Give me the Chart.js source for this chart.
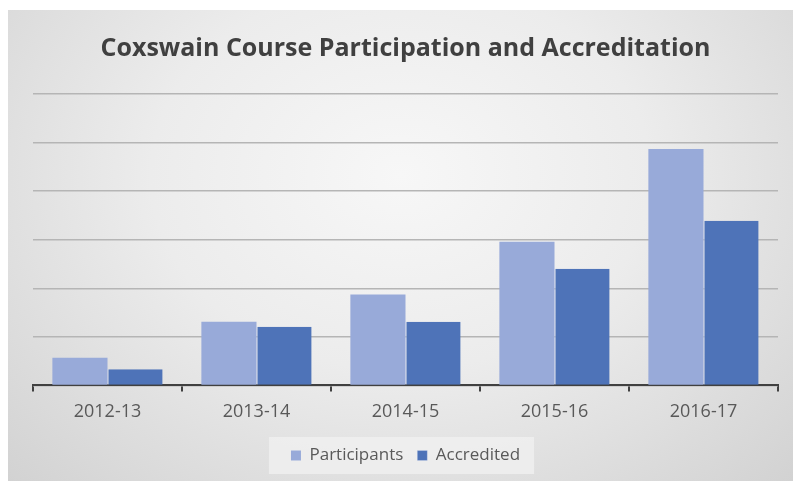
<!DOCTYPE html>
<html>
<head>
<meta charset="utf-8">
<script src="https://cdn.jsdelivr.net/npm/chart.js@4"></script>
<style>
  html, body { margin: 0; padding: 0; background: #fff; }
  #frame {
    position: absolute;
    left: 8px;
    top: 10px;
    width: 785px;
    height: 471px;
    background: radial-gradient(ellipse at 50% 35%, #f7f7f7 0%, #ececec 45%, #d2d2d2 100%);
  }
</style>
</head>
<body>
<div id="frame"><canvas id="chart" width="785" height="471"></canvas></div>
<script>
"use strict";

const seasons = ["2012-13", "2013-14", "2014-15", "2015-16", "2016-17"];
const participants = [0.57, 1.31, 1.87, 2.96, 4.87];
const accredited = [0.33, 1.21, 1.31, 2.4, 3.39];

// light box behind the legend items only
const legendBox = {
  id: "legendBox",
  beforeDraw(chart) {
    const boxes = chart.legend?.legendHitBoxes;
    if (!boxes || !boxes.length) return;
    const left = Math.min(...boxes.map((b) => b.left)) - 22;
    const right = Math.max(...boxes.map((b) => b.left + b.width)) + 14;
    const top = Math.min(...boxes.map((b) => b.top)) - 10;
    const bottom = Math.max(...boxes.map((b) => b.top + b.height)) + 10;
    const ctx = chart.ctx;
    ctx.save();
    ctx.fillStyle = "rgba(238,238,238,0.9)";
    ctx.fillRect(left, top, right - left, bottom - top);
    ctx.restore();
  }
};

new Chart(document.getElementById("chart"), {
  type: "bar",
  data: {
    labels: seasons,
    datasets: [
      {
        label: "Participants",
        data: participants,
        backgroundColor: "#98aad9",
        borderWidth: 0
      },
      {
        label: "Accredited",
        data: accredited,
        backgroundColor: "#4e73b8",
        borderColor: "#e8ecf5",
        borderWidth: { left: 1, top: 0, right: 0, bottom: 0 }
      }
    ]
  },
  options: {
    responsive: false,
    animation: false,
    layout: { padding: { left: 25, right: 15, bottom: 7 } },
    datasets: {
      bar: { categoryPercentage: 0.74, barPercentage: 1 }
    },
    scales: {
      x: {
        grid: {
          offset: true,
          drawOnChartArea: false,
          drawTicks: true,
          tickLength: 6,
          color: "#404040",
          lineWidth: 2
        },
        border: { color: "#404040", width: 2 },
        ticks: {
          color: "#595959",
          padding: 10,
          font: { family: "'Open Sans'", size: 18 }
        }
      },
      y: {
        min: 0,
        max: 6,
        ticks: { display: false, stepSize: 1 },
        grid: { color: "#b5b5b5", lineWidth: 1.5, drawTicks: false },
        border: { display: false }
      }
    },
    plugins: {
      title: {
        display: true,
        text: "Coxswain Course Participation and Accreditation",
        color: "#404040",
        font: { family: "'Open Sans'", size: 25, weight: "bold" },
        padding: { top: 24, bottom: 30 }
      },
      legend: {
        position: "bottom",
        labels: {
          color: "#595959",
          font: { family: "'Open Sans'", size: 17 },
          boxWidth: 10,
          boxHeight: 10,
          padding: 14
        }
      },
      tooltip: { enabled: false }
    }
  },
  plugins: [legendBox]
});
</script>
</body>
</html>
